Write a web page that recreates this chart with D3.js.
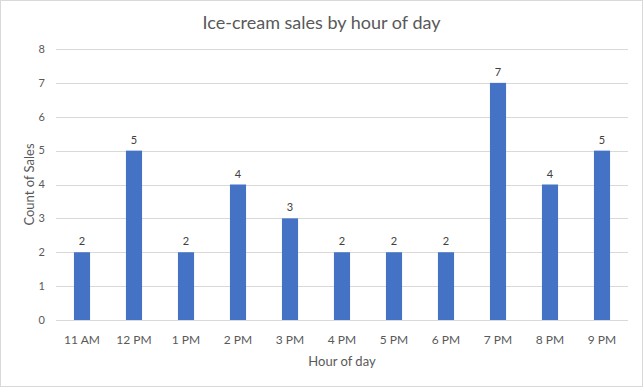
<!DOCTYPE html>
<html>
<head>
<meta charset="utf-8">
<script src="https://cdn.jsdelivr.net/npm/d3@7"></script>
<style>
  body { margin: 0; background: #fff; }
  svg { font-family: Lato, "Open Sans", sans-serif; }
</style>
</head>
<body>
<script>
var hours = ["11 AM", "12 PM", "1 PM", "2 PM", "3 PM", "4 PM", "5 PM", "6 PM", "7 PM", "8 PM", "9 PM"];
var sales = [2, 5, 2, 4, 3, 2, 2, 2, 7, 4, 5];
var yTicks = [0, 1, 2, 3, 4, 5, 6, 7, 8];

var width = 643, height = 387;
var plotLeft = 56, plotRight = 628, plotTop = 49, plotBottom = 320;

var svg = d3.select("body")
    .append("svg")
    .attr("width", width)
    .attr("height", height);

svg.append("rect")
    .attr("x", 0.5).attr("y", 0.5)
    .attr("width", width - 1).attr("height", height - 1)
    .attr("fill", "#fff")
    .attr("stroke", "#d9d9d9");

var x = d3.scaleBand()
    .domain(hours)
    .range([plotLeft, plotRight])
    .paddingInner(0.69)
    .paddingOuter(0.345);

var y = d3.scaleLinear()
    .domain([0, 8])
    .range([plotBottom, plotTop]);

// gridlines
svg.append("g")
    .selectAll("line")
    .data(yTicks)
    .enter()
    .append("line")
    .attr("x1", plotLeft)
    .attr("x2", plotRight)
    .attr("y1", d => Math.round(y(d)) + 0.5)
    .attr("y2", d => Math.round(y(d)) + 0.5)
    .attr("stroke", "#d9d9d9")
    .attr("stroke-width", 1);

// y tick labels
svg.append("g")
    .selectAll("text")
    .data(yTicks)
    .enter()
    .append("text")
    .attr("x", 45)
    .attr("y", d => y(d))
    .attr("dy", "0.35em")
    .attr("text-anchor", "end")
    .attr("font-size", 11)
    .attr("fill", "#595959")
    .text(d => d);

// bars
svg.append("g")
    .selectAll("rect")
    .data(sales)
    .enter()
    .append("rect")
    .attr("x", (d, i) => x(hours[i]))
    .attr("y", d => y(d))
    .attr("width", x.bandwidth())
    .attr("height", d => y(0) - y(d))
    .attr("fill", "#4472c4");

// value labels
svg.append("g")
    .selectAll("text")
    .data(sales)
    .enter()
    .append("text")
    .attr("x", (d, i) => x(hours[i]) + x.bandwidth() / 2)
    .attr("y", d => y(d) - 7)
    .attr("text-anchor", "middle")
    .attr("font-size", 11)
    .attr("fill", "#404040")
    .text(d => d);

// x tick labels
svg.append("g")
    .selectAll("text")
    .data(hours)
    .enter()
    .append("text")
    .attr("x", d => x(d) + x.bandwidth() / 2)
    .attr("y", 344)
    .attr("text-anchor", "middle")
    .attr("font-size", 12)
    .attr("fill", "#595959")
    .text(d => d);

// axis titles
svg.append("text")
    .attr("x", (plotLeft + plotRight) / 2)
    .attr("y", 366)
    .attr("text-anchor", "middle")
    .attr("font-size", 13)
    .attr("fill", "#595959")
    .text("Hour of day");

svg.append("text")
    .attr("transform", "translate(34," + ((plotTop + plotBottom) / 2) + ") rotate(-90)")
    .attr("text-anchor", "middle")
    .attr("font-size", 13)
    .attr("fill", "#595959")
    .text("Count of Sales");

svg.append("text")
    .attr("x", width / 2)
    .attr("y", 29)
    .attr("text-anchor", "middle")
    .attr("font-size", 18)
    .attr("fill", "#595959")
    .text("Ice-cream sales by hour of day");
</script>
</body>
</html>
